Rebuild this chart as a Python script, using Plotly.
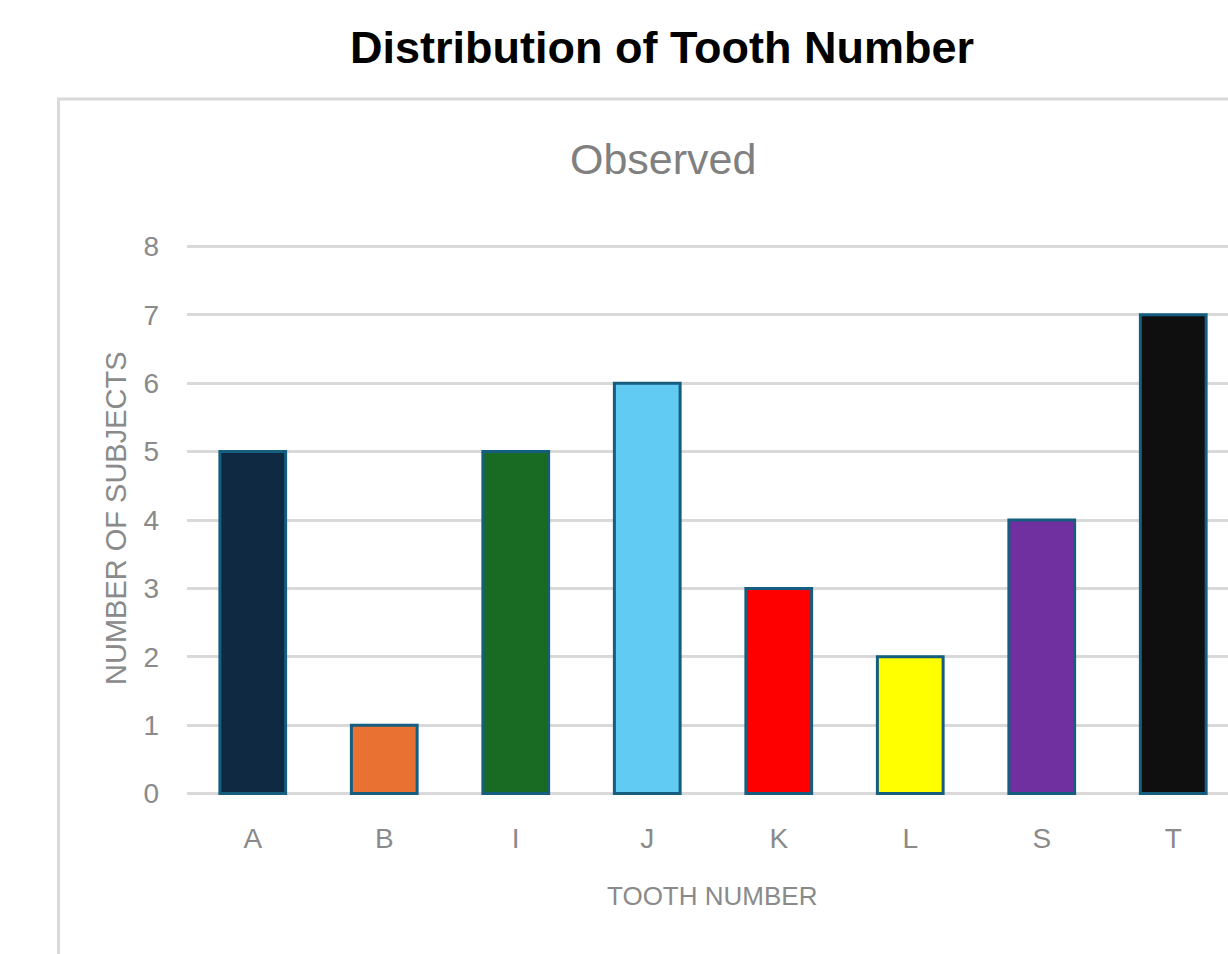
import plotly.graph_objects as go

# Observed counts per tooth
teeth = ["A", "B", "I", "J", "K", "L", "S", "T"]
subjects = [5, 1, 5, 6, 3, 2, 4, 7]
bar_colors = ["#0f2942", "#e97132", "#196b24", "#61cbf3",
              "#ff0000", "#ffff00", "#7030a0", "#0f0f0f"]
y_ticks = [0, 1, 2, 3, 4, 5, 6, 7, 8]

W, H = 1228, 954
L, R, T, B = 187, 0, 242.6, 156.6
plot_w = W - L - R
plot_h = H - T - B

def px_x(x):
    return (x - L) / plot_w

def px_y(y):
    return 1 - (y - T) / plot_h

FONT = "Liberation Sans Narrow, Arial Narrow, Liberation Sans, Arial, sans-serif"
GRAY = "#8a8a8a"

fig = go.Figure(go.Bar(
    x=teeth,
    y=subjects,
    width=0.5,
    marker=dict(color=bar_colors, line=dict(color="#155e80", width=3)),
    hoverinfo="x+y",
))

fig.update_layout(
    width=W, height=H,
    margin=dict(l=L, r=R, t=T, b=B, pad=0),
    paper_bgcolor="white", plot_bgcolor="white",
    showlegend=False,
    font=dict(family=FONT, color=GRAY),
    xaxis=dict(
        range=[-0.5, -0.5 + plot_w / 131.5],
        showgrid=False, zeroline=False, showline=False,
        tickfont=dict(family=FONT, size=28, color=GRAY),
        ticklabelstandoff=22,
    ),
    yaxis=dict(
        range=[-0.05, 8.05],
        tickvals=y_ticks,
        showgrid=True, gridcolor="#d9d9d9", gridwidth=3,
        zeroline=False, showline=False,
        tickfont=dict(family=FONT, size=28, color=GRAY),
        ticklabelstandoff=27,
    ),
    shapes=[dict(
        type="rect", xref="paper", yref="paper",
        x0=px_x(58.5), x1=px_x(1300), y0=px_y(1000), y1=px_y(98.5),
        line=dict(color="#d9d9d9", width=3), fillcolor="rgba(0,0,0,0)",
        layer="below",
    )],
    annotations=[
        dict(text="<b>Distribution of Tooth Number</b>", xref="paper", yref="paper",
             x=px_x(662), y=px_y(47), xanchor="center", yanchor="middle",
             showarrow=False, font=dict(family=FONT, size=45, color="black")),
        dict(text="Observed", xref="paper", yref="paper",
             x=px_x(663), y=px_y(158), xanchor="center", yanchor="middle",
             showarrow=False, font=dict(family=FONT, size=43, color="#808080")),
        dict(text="TOOTH NUMBER", xref="paper", yref="paper",
             x=px_x(712), y=px_y(897), xanchor="center", yanchor="middle",
             showarrow=False, font=dict(family=FONT, size=26, color=GRAY)),
        dict(text="NUMBER OF SUBJECTS", xref="paper", yref="paper",
             x=px_x(116), y=px_y(518), xanchor="center", yanchor="middle",
             textangle=-90, showarrow=False,
             font=dict(family=FONT, size=29, color=GRAY)),
    ],
)

fig.write_html("out.html")
